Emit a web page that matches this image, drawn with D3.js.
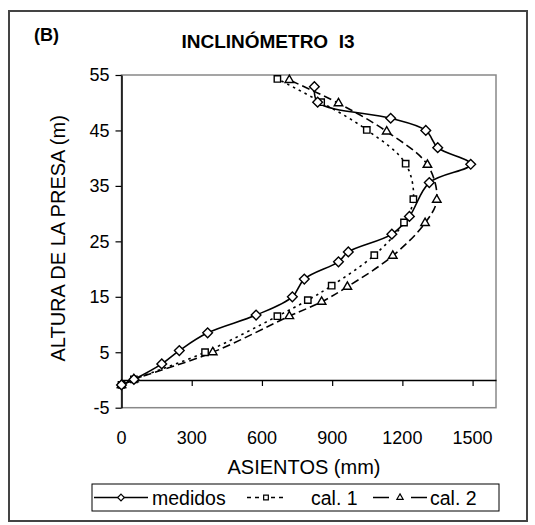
<!DOCTYPE html>
<html>
<head>
<meta charset="utf-8">
<script src="https://cdn.jsdelivr.net/npm/d3@7"></script>
<style>
  body { margin: 0; background: #fff; }
  text { font-family: Arial, "Liberation Sans", sans-serif; fill: #000; }
</style>
</head>
<body>
<div id="vizArea"></div>
<script>
// data
var medidosX = [0, 53, 172, 247, 368, 575, 730, 781, 927, 969, 1155, 1230, 1315, 1492, 1351, 1300, 1150, 838, 824];
var medidosY = [-0.9, 0.1, 2.9, 5.3, 8.5, 11.7, 15.0, 18.2, 21.3, 23.1, 26.3, 29.5, 35.6, 38.9, 41.9, 45.0, 47.2, 50.1, 52.9];
var cal1X = [0, 53, 357, 666, 796, 898, 1080, 1207, 1247, 1214, 1048, 853, 666];
var cal1Y = [-0.9, 0.1, 5.0, 11.5, 14.4, 17.0, 22.5, 28.4, 32.6, 39.0, 45.1, 50.1, 54.3];
var cal2X = [0, 53, 390, 717, 855, 965, 1159, 1297, 1347, 1307, 1133, 927, 717];
var cal2Y = [-0.9, 0.1, 5.0, 11.5, 14.1, 16.8, 22.4, 28.3, 32.5, 38.8, 44.8, 49.9, 54.1];
var xTicks = [0, 300, 600, 900, 1200, 1500];
var yTicks = [-5, 5, 15, 25, 35, 45, 55];
var seriesNames = ["medidos", "cal. 1", "cal. 2"];

var W = 535, H = 525;
var svg = d3.select("#vizArea").append("svg")
  .attr("width", W).attr("height", H);

// outer frame
svg.append("rect").attr("x", 9).attr("y", 11).attr("width", 518).attr("height", 510)
  .attr("fill", "white").attr("stroke", "#444").attr("stroke-width", 2);

var pLeft = 121.5, pRight = 496, pTop = 75, pBottom = 407.7;
var x = d3.scaleLinear().domain([0, 1600]).range([pLeft, pRight]);
var y = d3.scaleLinear().domain([-5, 55]).range([pBottom, pTop]);

// plot area border
svg.append("rect").attr("x", pLeft).attr("y", pTop).attr("width", pRight - pLeft).attr("height", pBottom - pTop)
  .attr("fill", "none").attr("stroke", "#888").attr("stroke-width", 1.5);

// y axis
var yAxis = svg.append("g").attr("transform", "translate(" + x(0) + ",0)")
  .call(d3.axisLeft(y).tickValues(yTicks).tickSize(6).tickSizeOuter(0).tickPadding(6).tickFormat(String));
yAxis.select(".domain").attr("stroke", "#000").attr("stroke-width", 1.5);
yAxis.selectAll(".tick line").attr("stroke-width", 1.2);
yAxis.selectAll("text").attr("font-size", 18).attr("font-family", "Arial, 'Liberation Sans', sans-serif");

// x axis at y = 0, labels below the plot
var xAxis = svg.append("g").attr("transform", "translate(0," + y(0) + ")")
  .call(d3.axisBottom(x).tickValues(xTicks).tickSize(6).tickSizeOuter(0).tickFormat(""));
xAxis.select(".domain").attr("stroke", "#000").attr("stroke-width", 1.5);
xAxis.selectAll(".tick line").attr("stroke-width", 1.2);
svg.append("g").selectAll("text").data(xTicks).join("text")
  .attr("x", function(d){ return x(d); }).attr("y", 444)
  .attr("text-anchor", "middle").attr("font-size", 18)
  .text(function(d){ return d; });

// titles
svg.append("text").attr("x", 268).attr("y", 48).attr("text-anchor", "middle")
  .attr("font-size", 19).attr("font-weight", "bold").attr("xml:space", "preserve").text("INCLINÓMETRO  I3");
svg.append("text").attr("x", 34).attr("y", 41).attr("font-size", 18).attr("font-weight", "bold").text("(B)");
svg.append("text").attr("x", 304).attr("y", 474).attr("text-anchor", "middle")
  .attr("font-size", 20).text("ASIENTOS (mm)");
svg.append("text").attr("transform", "translate(65," + ((pTop + pBottom) / 2 - 3) + ") rotate(-90)")
  .attr("text-anchor", "middle").attr("font-size", 20).text("ALTURA DE LA PRESA (m)");

function pts(xs, ys) { return xs.map(function(v, i){ return [v, ys[i]]; }); }
var series = [
  { name: seriesNames[0], data: pts(medidosX, medidosY), dash: null, legDash: null, type: d3.symbolDiamond2, size: 60 },
  { name: seriesNames[1], data: pts(cal1X, cal1Y), dash: "2.5,4", legDash: "4,4", type: d3.symbolSquare2, size: 52 },
  { name: seriesNames[2], data: pts(cal2X, cal2Y), dash: "8,4", legDash: "16,22", type: d3.symbolTriangle2, size: 52 }
];

var line = d3.line().x(function(d){ return x(d[0]); }).y(function(d){ return y(d[1]); })
  .curve(d3.curveCatmullRom.alpha(0.5));

series.slice().reverse().forEach(function(s){
  svg.append("path").attr("d", line(s.data)).attr("fill", "none")
    .attr("stroke", "#000").attr("stroke-width", 1.6)
    .attr("stroke-dasharray", s.dash);
});
series.slice().reverse().forEach(function(s){
  svg.append("g").selectAll("path").data(s.data).join("path")
    .attr("transform", function(d){ return "translate(" + x(d[0]) + "," + y(d[1]) + ")"; })
    .attr("d", d3.symbol().type(s.type).size(s.size)())
    .attr("fill", "white").attr("stroke", "#000").attr("stroke-width", 1.4);
});

// legend
var lg = svg.append("g");
lg.append("rect").attr("x", 92).attr("y", 484).attr("width", 407).attr("height", 27)
  .attr("fill", "white").attr("stroke", "#000").attr("stroke-width", 1);
var legPos = [{ x0: 94, x1: 148, tx: 152 }, { x0: 247, x1: 285, tx: 311 }, { x0: 373, x1: 427, tx: 430 }];
series.forEach(function(s, i){
  var p = legPos[i], cy = 497.5;
  lg.append("line").attr("x1", p.x0).attr("x2", p.x1).attr("y1", cy).attr("y2", cy)
    .attr("stroke", "#000").attr("stroke-width", 1.5).attr("stroke-dasharray", s.legDash);
  lg.append("path").attr("transform", "translate(" + ((p.x0 + p.x1) / 2) + "," + cy + ")")
    .attr("d", d3.symbol().type(s.type).size(28)())
    .attr("fill", "white").attr("stroke", "#000").attr("stroke-width", 1.2);
  lg.append("text").attr("x", p.tx).attr("y", cy + 7).attr("font-size", 19.5).text(s.name);
});
</script>
</body>
</html>
